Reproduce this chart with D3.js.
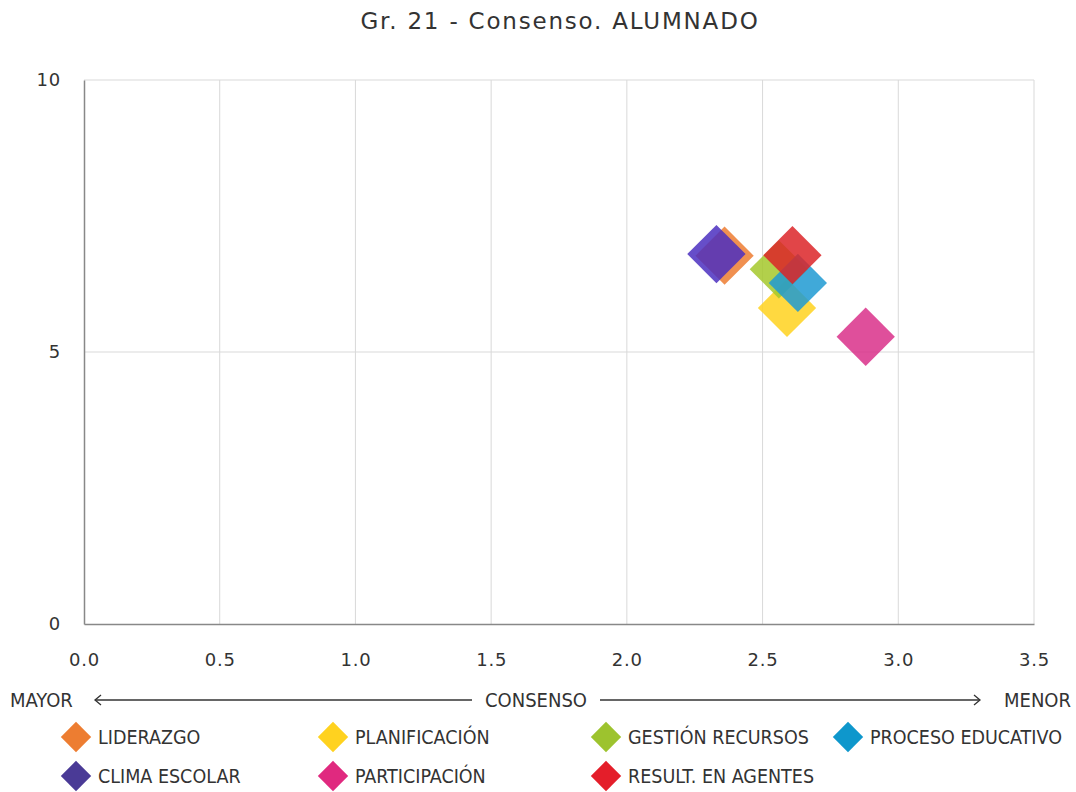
<!DOCTYPE html>
<html>
<head>
<meta charset="utf-8">
<script src="https://cdn.jsdelivr.net/npm/d3@7"></script>
<style>
  body { margin: 0; background: #fff; }
  svg text { font-family: "DejaVu Sans", Verdana, sans-serif; fill: #333; }
  .leg text, .dir text { font-family: "DejaVu Sans Condensed", "DejaVu Sans", sans-serif; font-stretch: condensed; }
</style>
</head>
<body>
<svg id="chart" width="1076" height="792"></svg>
<script>
//Series names, colours and values (x = consenso, y = valoración)
var names = ["LIDERAZGO", "PLANIFICACIÓN", "GESTIÓN RECURSOS", "PROCESO EDUCATIVO",
             "CLIMA ESCOLAR", "PARTICIPACIÓN", "RESULT. EN AGENTES"];
var colors = ["#ED7D31", "#FFD21F", "#A5C82C", "#1E9AD2", "#4B2FBF", "#D9308A", "#DC2428"];
var legColors = ["#ED7D31", "#FFD21F", "#9DC32E", "#0E97CC", "#4A3A96", "#E0297F", "#E41E2A"];
var xVals = [2.36, 2.59, 2.56, 2.63, 2.33, 2.88, 2.61];
var yVals = [6.77, 5.81, 6.52, 6.27, 6.80, 5.28, 6.78];
var xTicks = [0, 0.5, 1, 1.5, 2, 2.5, 3, 3.5];
var yTicks = [0, 5, 10];

var svg = d3.select("#chart");

//Plot area
var x = d3.scaleLinear().domain([0, 3.5]).range([84, 1034]);
var y = d3.scaleLinear().domain([0, 10]).range([624, 80]);

//Title
svg.append("text")
    .attr("x", 560).attr("y", 29)
    .attr("text-anchor", "middle")
    .style("font-size", "23px")
    .style("letter-spacing", "1.8px")
    .text("Gr. 21 - Consenso. ALUMNADO");

//Gridlines
svg.append("g").selectAll("line.v")
    .data(xTicks.slice(1))
    .join("line")
    .attr("x1", d => x(d)).attr("x2", d => x(d))
    .attr("y1", y(10)).attr("y2", y(0))
    .attr("stroke", "#d9d9d9");
svg.append("g").selectAll("line.h")
    .data(yTicks.slice(1))
    .join("line")
    .attr("x1", x(0)).attr("x2", x(3.5))
    .attr("y1", d => y(d)).attr("y2", d => y(d))
    .attr("stroke", "#d9d9d9");

//Axes
var xAxis = svg.append("g")
    .attr("transform", "translate(0," + y(0) + ")")
    .call(d3.axisBottom(x).tickValues(xTicks).tickFormat(d3.format(".1f")).tickSize(0).tickPadding(29));
var yAxis = svg.append("g")
    .attr("transform", "translate(" + x(0) + ",0)")
    .call(d3.axisLeft(y).tickValues(yTicks).tickSize(0).tickPadding(23));
[xAxis, yAxis].forEach(function(a){
    a.select(".domain").attr("stroke", "#888").attr("stroke-width", 1.5);
    a.selectAll("text").style("font-size", "18px").style("letter-spacing", "0.8px").attr("fill", "#333");
});

//Direction line under the x axis
var dir = svg.append("g").attr("class", "dir");
var dirY = 700;
dir.append("text").attr("x", 10).attr("y", dirY + 7).style("font-size", "20px").text("MAYOR");
dir.append("text").attr("x", 536).attr("y", dirY + 7).attr("text-anchor", "middle").style("font-size", "20px").text("CONSENSO");
dir.append("text").attr("x", 1071).attr("y", dirY + 7).attr("text-anchor", "end").style("font-size", "20px").text("MENOR");
dir.append("line").attr("x1", 95).attr("x2", 472).attr("y1", dirY).attr("y2", dirY).attr("stroke", "#333").attr("stroke-width", 1.3);
dir.append("line").attr("x1", 600).attr("x2", 980).attr("y1", dirY).attr("y2", dirY).attr("stroke", "#333").attr("stroke-width", 1.3);
dir.append("path").attr("d", "M101," + (dirY - 5) + "L95," + dirY + "L101," + (dirY + 5)).attr("fill", "none").attr("stroke", "#333").attr("stroke-width", 1.3);
dir.append("path").attr("d", "M974," + (dirY - 5) + "L980," + dirY + "L974," + (dirY + 5)).attr("fill", "none").attr("stroke", "#333").attr("stroke-width", 1.3);

//Diamond markers
var diamond = d3.symbol().type(d3.symbolSquare).size(1700);
svg.append("g").selectAll("path")
    .data(names.map((n, i) => i))
    .join("path")
    .attr("d", diamond)
    .attr("transform", i => "translate(" + x(xVals[i]) + "," + y(yVals[i]) + ") rotate(45)")
    .attr("fill", i => colors[i])
    .attr("fill-opacity", 0.85);

//Legend
var legX = [76, 333, 606, 848];
var leg = svg.append("g").attr("class", "leg");
names.forEach(function(n, i){
    var lx = legX[i % 4];
    var ly = 737 + Math.floor(i / 4) * 39;
    leg.append("path")
        .attr("d", d3.symbol().type(d3.symbolSquare).size(460)())
        .attr("transform", "translate(" + lx + "," + ly + ") rotate(45)")
        .attr("fill", legColors[i]);
    leg.append("text")
        .attr("x", lx + 22).attr("y", ly + 7)
        .style("font-size", "19.5px")
        .attr("fill", "#404040")
        .text(n);
});
</script>
</body>
</html>
